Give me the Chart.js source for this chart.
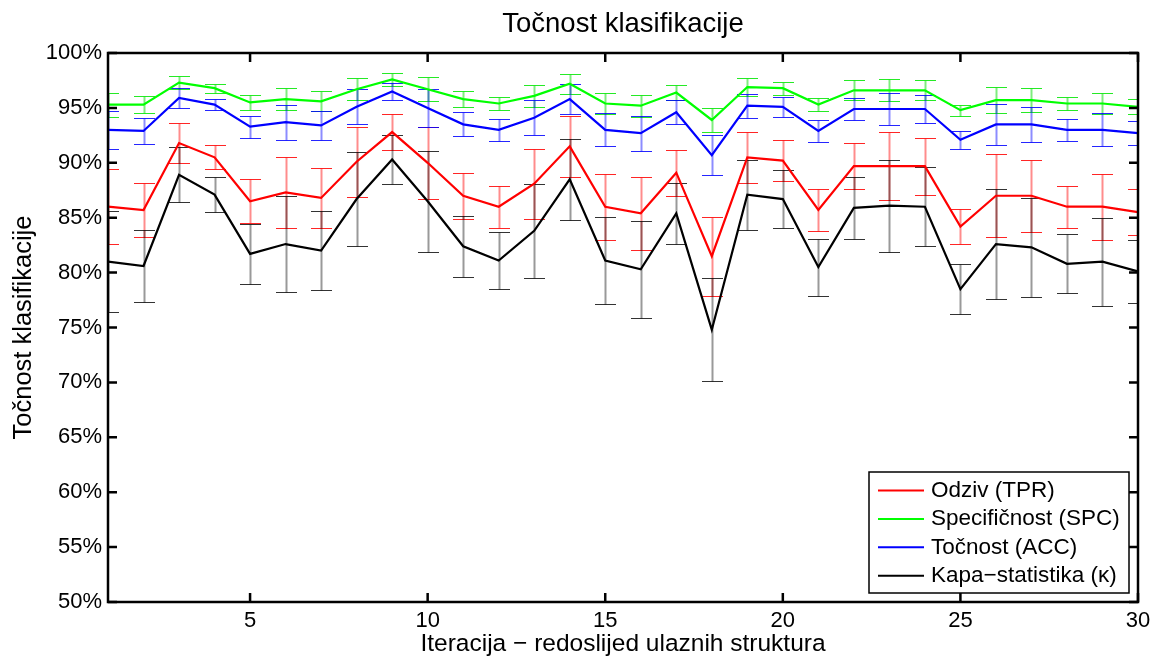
<!DOCTYPE html>
<html>
<head>
<meta charset="utf-8">
<script src="https://cdn.jsdelivr.net/npm/chart.js@4.4.1/dist/chart.umd.min.js"></script>
<style>
  html, body { margin: 0; padding: 0; background: #fff; }
  #wrap { width: 1153px; height: 658px; }
</style>
</head>
<body>
<div id="wrap"><canvas id="grafikon"></canvas></div>
<script>
  // iteracije 1..30
  const iteracije = [1, 2, 3, 4, 5, 6, 7, 8, 9, 10, 11, 12, 13, 14, 15, 16, 17, 18, 19, 20, 21, 22, 23, 24, 25, 26, 27, 28, 29, 30];

  // Odziv (TPR)
  const odziv = [86.0, 85.7, 91.8, 90.5, 86.5, 87.3, 86.8, 90.1, 92.8, 90.0, 87.0, 86.0, 88.1, 91.5, 86.0, 85.4, 89.1, 81.5, 90.5, 90.2, 85.7, 89.7, 89.7, 89.7, 84.2, 87.0, 87.0, 86.0, 86.0, 85.5];
  const odzivGreska = [3.4, 2.5, 1.8, 1.1, 2.0, 3.2, 2.7, 3.2, 1.6, 3.3, 2.1, 1.9, 3.2, 2.8, 3.0, 3.3, 2.1, 3.6, 2.3, 1.9, 1.9, 2.1, 3.1, 2.6, 1.6, 3.8, 3.3, 1.9, 3.0, 2.1];

  // Specifičnost (SPC)
  const specificnost = [95.3, 95.3, 97.3, 96.8, 95.5, 95.8, 95.6, 96.7, 97.6, 96.7, 95.8, 95.4, 96.1, 97.2, 95.4, 95.2, 96.4, 93.9, 96.9, 96.8, 95.3, 96.6, 96.6, 96.6, 94.8, 95.7, 95.7, 95.4, 95.4, 95.1];
  const specificnostGreska = [1.1, 0.8, 0.6, 0.4, 0.7, 1.0, 0.9, 1.0, 0.6, 1.1, 0.7, 0.6, 1.0, 0.9, 1.0, 1.0, 0.7, 1.1, 0.8, 0.6, 0.6, 0.9, 1.0, 0.9, 0.5, 1.2, 1.1, 0.6, 1.0, 0.7];

  // Točnost (ACC)
  const tocnost = [93.0, 92.9, 95.9, 95.3, 93.3, 93.7, 93.4, 95.1, 96.5, 95.0, 93.5, 93.0, 94.1, 95.8, 93.0, 92.7, 94.6, 90.7, 95.2, 95.1, 92.9, 94.9, 94.9, 94.9, 92.1, 93.5, 93.5, 93.0, 93.0, 92.7];
  const tocnostGreska = [1.7, 1.2, 0.9, 0.5, 1.0, 1.6, 1.3, 1.6, 0.8, 1.7, 1.1, 1.0, 1.6, 1.4, 1.5, 1.6, 1.1, 1.8, 1.1, 0.9, 1.0, 1.0, 1.5, 1.3, 0.8, 1.9, 1.6, 1.0, 1.5, 1.1];

  // Kapa-statistika
  const kapa = [81.0, 80.6, 88.9, 87.1, 81.7, 82.6, 82.0, 86.7, 90.3, 86.5, 82.4, 81.1, 83.8, 88.5, 81.1, 80.3, 85.4, 74.8, 87.1, 86.7, 80.5, 85.9, 86.1, 86.0, 78.5, 82.6, 82.3, 80.8, 81.0, 80.1];
  const kapaGreska = [4.6, 3.3, 2.5, 1.6, 2.7, 4.4, 3.6, 4.3, 2.2, 4.6, 2.8, 2.6, 4.3, 3.7, 4.0, 4.4, 2.8, 4.7, 3.2, 2.6, 2.6, 2.8, 4.2, 3.6, 2.3, 5.0, 4.5, 2.7, 4.0, 2.9];

  const xTicks = [5, 10, 15, 20, 25, 30];

  const FONT = "'Liberation Sans', Arial, sans-serif";

  function serija(label, vrijednosti, greske, boja, svijetla, red) {
    return {
      label: label,
      data: vrijednosti.map((v, i) => ({ x: iteracije[i], y: v })),
      greske: greske,
      borderColor: boja,
      backgroundColor: boja,
      bojaGreske: svijetla,
      borderWidth: 2.2,
      pointRadius: 0,
      tension: 0,
      order: red
    };
  }

  // error bars, drawn through the chart scales
  const greskePlugin = {
    id: 'greske',
    afterLayout(chart) {
      // centre the title over the plot area, like MATLAB
      const a = chart.chartArea;
      if (chart.titleBlock) {
        chart.titleBlock.left = a.left;
        chart.titleBlock.right = a.right;
      }
    },
    beforeDatasetsDraw(chart) {
      const { ctx, chartArea: a, scales: { x, y } } = chart;
      ctx.save();
      ctx.beginPath();
      ctx.rect(a.left, a.top, a.right - a.left, a.bottom - a.top);
      ctx.clip();
      const poRedu = chart.data.datasets.slice().sort((p, q) => q.order - p.order);
      poRedu.forEach(ds => {
        ds.data.forEach((p, i) => {
          const e = ds.greske[i];
          const px = Math.round(x.getPixelForValue(p.x)) + 0.5;
          const gore = Math.round(y.getPixelForValue(p.y + e)) + 0.5;
          const dolje = Math.round(y.getPixelForValue(p.y - e)) + 0.5;
          ctx.strokeStyle = ds.bojaGreske[0];
          ctx.lineWidth = 2;
          ctx.beginPath();
          ctx.moveTo(px, gore);
          ctx.lineTo(px, dolje);
          ctx.stroke();
          ctx.strokeStyle = ds.bojaGreske[1];
          ctx.lineWidth = 1;
          ctx.beginPath();
          ctx.moveTo(px - 10.5, gore);
          ctx.lineTo(px + 10.5, gore);
          ctx.moveTo(px - 10.5, dolje);
          ctx.lineTo(px + 10.5, dolje);
          ctx.stroke();
        });
      });
      ctx.restore();
    }
  };

  // MATLAB style box, inner ticks and legend
  const okvirPlugin = {
    id: 'okvir',
    afterDatasetsDraw(chart) {
      const { ctx, chartArea: a, scales: { x, y } } = chart;
      ctx.save();
      ctx.strokeStyle = '#000';
      ctx.lineWidth = 2.5;
      ctx.beginPath();
      x.ticks.forEach(t => {
        const px = x.getPixelForValue(t.value);
        ctx.moveTo(px, a.bottom); ctx.lineTo(px, a.bottom - 9);
        ctx.moveTo(px, a.top); ctx.lineTo(px, a.top + 9);
      });
      y.ticks.forEach(t => {
        const py = y.getPixelForValue(t.value);
        ctx.moveTo(a.left, py); ctx.lineTo(a.left + 9, py);
        ctx.moveTo(a.right, py); ctx.lineTo(a.right - 9, py);
      });
      ctx.stroke();
      ctx.strokeRect(a.left, a.top, a.right - a.left, a.bottom - a.top);

      // legend
      const lx = 869, ly = 472, lw = 260, lh = 121;
      ctx.fillStyle = '#fff';
      ctx.fillRect(lx, ly, lw, lh);
      ctx.lineWidth = 1.5;
      ctx.strokeStyle = '#000';
      ctx.strokeRect(lx, ly, lw, lh);
      ctx.font = '22.5px ' + FONT;
      ctx.textBaseline = 'middle';
      ctx.textAlign = 'left';
      chart.data.datasets.forEach((ds, i) => {
        const ry = ly + 18.5 + i * 28.4;
        ctx.strokeStyle = ds.borderColor;
        ctx.lineWidth = 2;
        ctx.beginPath();
        ctx.moveTo(lx + 9, ry); ctx.lineTo(lx + 55, ry);
        ctx.stroke();
        ctx.fillStyle = '#000';
        ctx.fillText(ds.label, lx + 62, ry);
      });
      ctx.restore();
    }
  };

  const config = {
    type: 'line',
    data: {
      datasets: [
        serija('Odziv (TPR)', odziv, odzivGreska, '#ff0000', ['rgba(255,0,0,0.45)', 'rgba(255,0,0,0.85)'], 4),
        serija('Specifičnost (SPC)', specificnost, specificnostGreska, '#00ff00', ['rgba(0,220,0,0.5)', 'rgba(0,230,0,0.85)'], 3),
        serija('Točnost (ACC)', tocnost, tocnostGreska, '#0000ff', ['rgba(0,0,255,0.45)', 'rgba(0,0,255,0.85)'], 2),
        serija('Kapa−statistika (κ)', kapa, kapaGreska, '#000000', ['rgba(0,0,0,0.4)', 'rgba(0,0,0,0.8)'], 1)
      ]
    },
    options: {
      responsive: true,
      maintainAspectRatio: false,
      animation: false,
      layout: { padding: { left: 0, right: 15, top: 0, bottom: 0 } },
      plugins: {
        legend: { display: false },
        tooltip: { enabled: false },
        title: {
          display: true,
          text: 'Točnost klasifikacije',
          color: '#000',
          font: { family: FONT, size: 27.5, weight: 'normal', lineHeight: 1.2 },
          padding: { top: 8, bottom: 12 }
        }
      },
      scales: {
        x: {
          type: 'linear',
          min: 1,
          max: 30,
          afterBuildTicks: s => { s.ticks = xTicks.map(v => ({ value: v })); },
          afterFit: s => { s.height = 56; s.paddingRight = 0; },
          grid: { display: false, drawTicks: false },
          border: { display: false },
          ticks: {
            color: '#000',
            font: { family: FONT, size: 22 },
            padding: 6,
            maxRotation: 0
          },
          title: {
            display: true,
            text: 'Iteracija − redoslijed ulaznih struktura',
            color: '#000',
            font: { family: FONT, size: 24.5, lineHeight: 1 },
            padding: { top: 0, bottom: 2 }
          }
        },
        y: {
          min: 50,
          max: 100,
          afterFit: s => { s.width = 108; },
          grid: { display: false, drawTicks: false },
          border: { display: false },
          ticks: {
            stepSize: 5,
            color: '#000',
            font: { family: FONT, size: 22 },
            padding: 6,
            callback: v => v + '%'
          },
          title: {
            display: true,
            text: 'Točnost klasifikacije',
            color: '#000',
            font: { family: FONT, size: 25.5, lineHeight: 1 },
            padding: { top: 11, bottom: 0 }
          }
        }
      }
    },
    plugins: [greskePlugin, okvirPlugin]
  };

  new Chart(document.getElementById('grafikon').getContext('2d'), config);
</script>
</body>
</html>
